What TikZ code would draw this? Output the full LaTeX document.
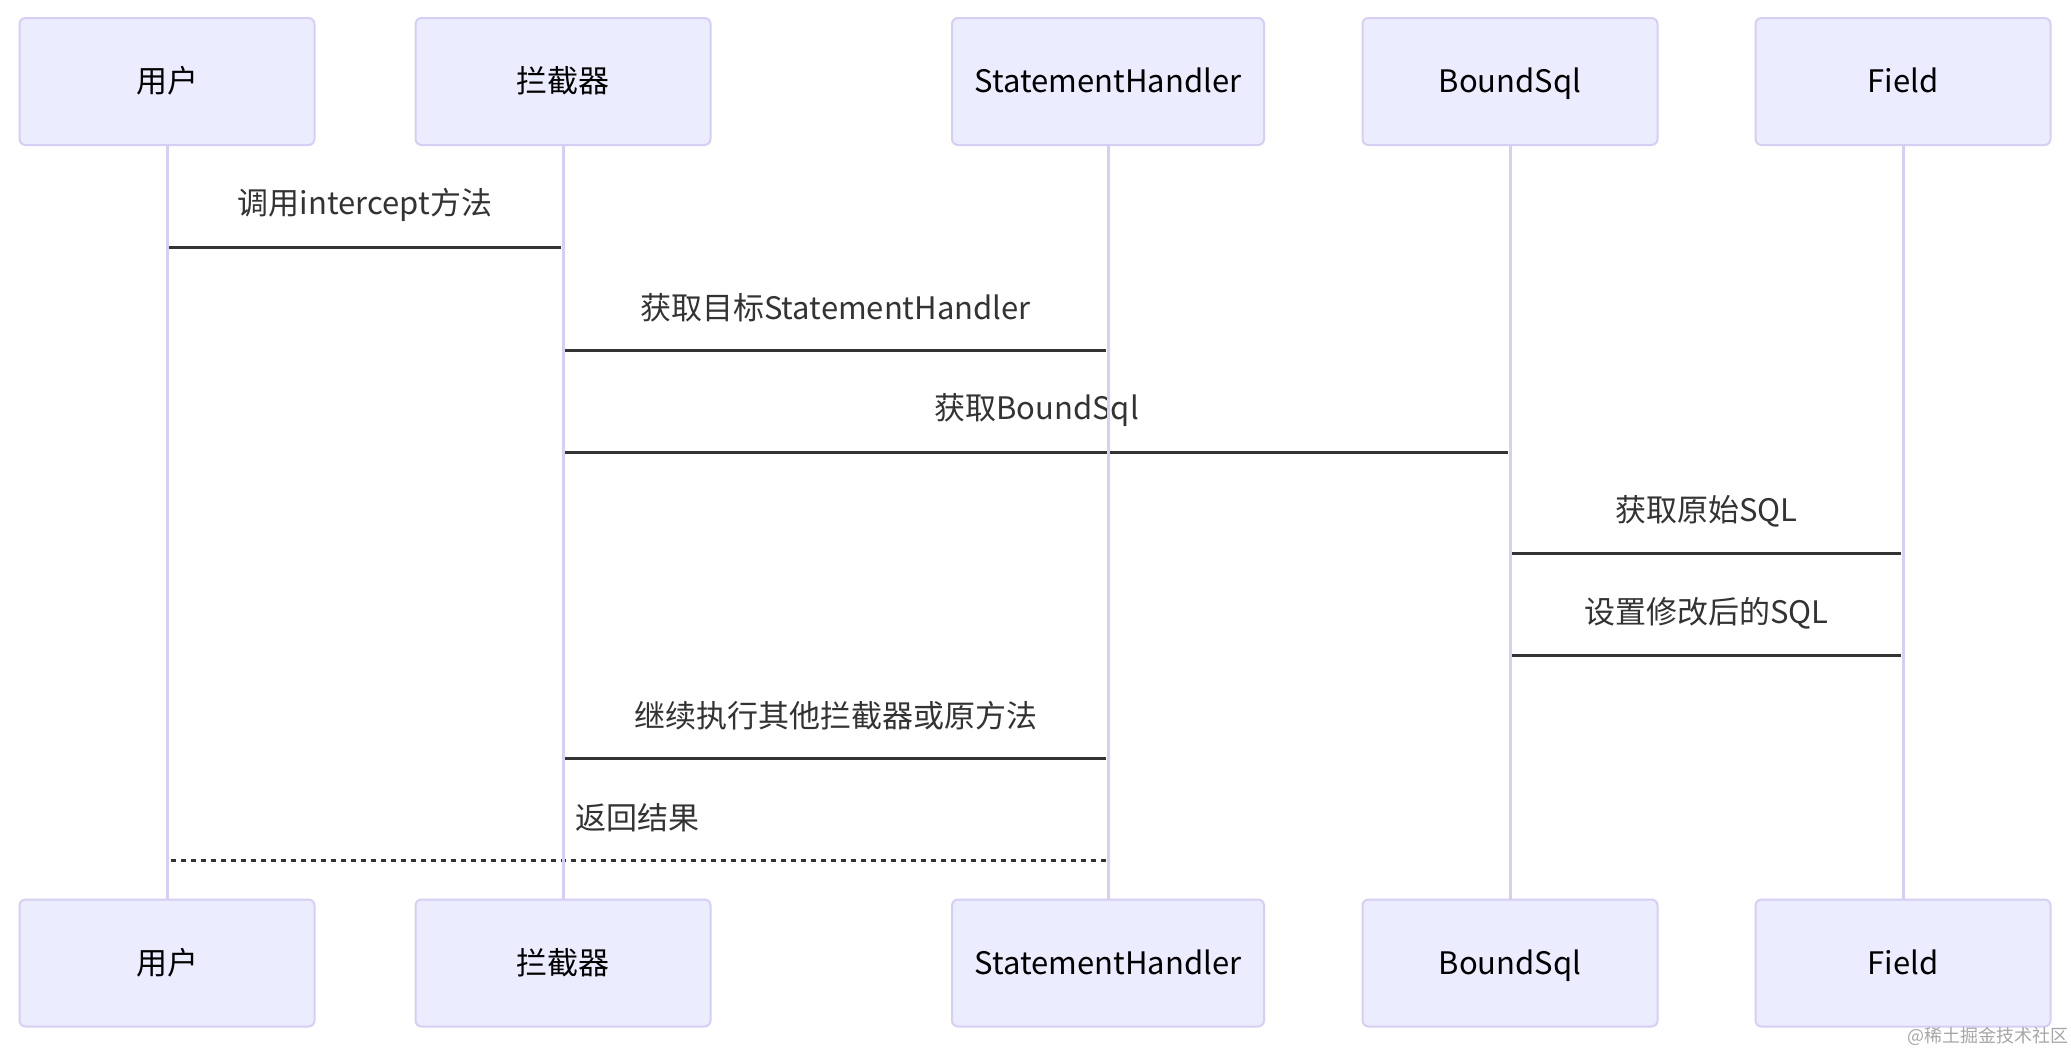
\documentclass[tikz,border=0pt]{standalone}
\usepackage{fontspec}
\setmainfont{Noto Sans CJK SC}
\definecolor{actorfill}{HTML}{ECECFF}
\definecolor{actorline}{HTML}{D6CEF3}
\definecolor{msgline}{HTML}{333333}
\tikzset{
	actor/.style={draw=actorline, fill=actorfill, line width=1pt, rounded corners=3pt,
		minimum height=63.5pt, text height=14pt, text depth=3pt, text=black},
	lifeline/.style={draw=actorline, line width=1.5pt},
	msg/.style={draw=msgline, line width=1.5pt, shorten <=1pt, shorten >=1pt},
	ret/.style={dash pattern=on 2.5pt off 2.5pt},
}
\begin{document}
\begin{tikzpicture}[x=0.5pt, y=-0.5pt, font=\fontsize{15.5}{18}\selectfont]
	\useasboundingbox (0,0) rectangle (2071,1049);
	% Teilnehmer
	\foreach \n/\x/\w/\t in {u/167/147.5/用户, i/563/147.5/拦截器, s/1108/156/StatementHandler,
		b/1510/147.5/BoundSql, f/1903/147.5/Field} {
		\node[actor, minimum width=\w pt] (\n-top) at (\x,81.5) {\t};
		\node[actor, minimum width=\w pt] (\n-bot) at (\x,963) {\t};
	}
	% Nachrichten
	\foreach \p/\q/\y/\t/\s in {u/i/247/{调用intercept方法}/solid, i/s/350/{获取目标StatementHandler}/solid,
		i/b/452/{获取BoundSql}/solid, b/f/553/{获取原始SQL}/solid, b/f/655/{设置修改后的SQL}/solid,
		i/s/758/{继续执行其他拦截器或原方法}/solid, s/u/860/{返回结果}/ret} {
		\draw[msg, \s] (\p-top |- 0,\y) -- (\q-top |- 0,\y)
			node[midway, yshift=21pt, text=msgline, solid] {\t};
	}
	% Lebenslinien
	\foreach \n in {u,i,s,b,f}
		\draw[lifeline] (\n-top) -- (\n-bot);
	% Wasserzeichen
	\node[text=black!35, font=\fontsize{9}{10}\selectfont] (wm) at (1988,1036) {@稀土掘金技术社区};
\end{tikzpicture}
\end{document}
